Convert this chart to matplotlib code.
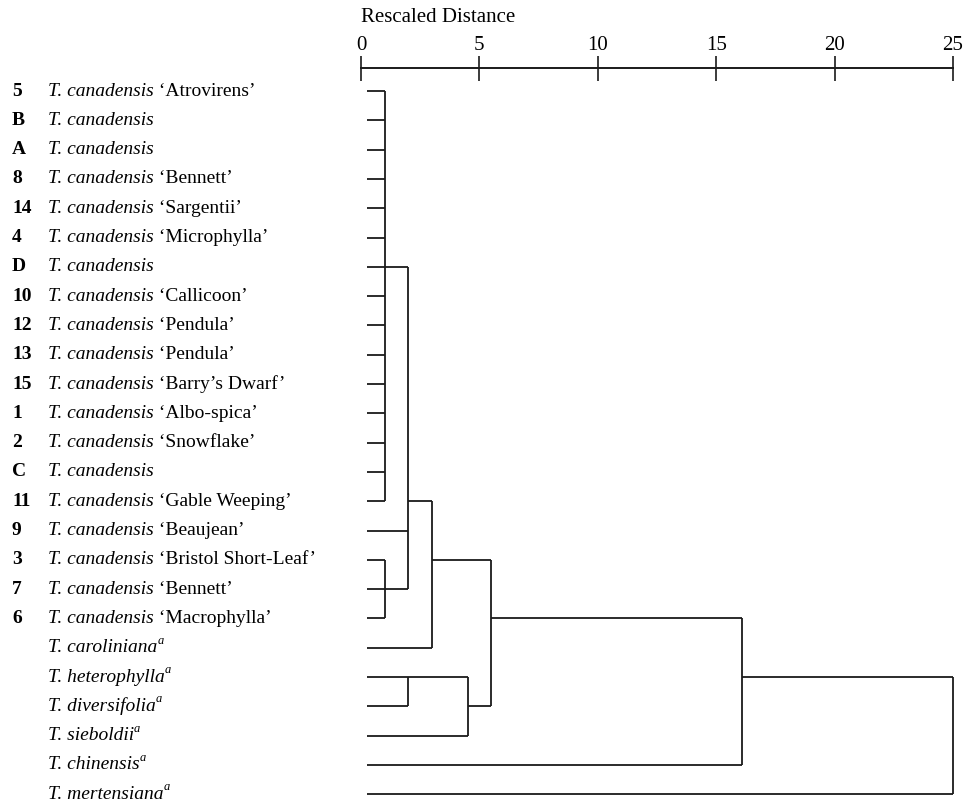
import matplotlib.pyplot as plt
from matplotlib.transforms import blended_transform_factory

plt.rcParams['font.family'] = ['Liberation Serif', 'DejaVu Serif']

codes = ["5", "B", "A", "8", "14", "4", "D", "10", "12", "13", "15", "1", "2", "C", "11",
         "9", "3", "7", "6", "", "", "", "", "", ""]
species = ["T. canadensis"] * 19 + ["T. caroliniana", "T. heterophylla", "T. diversifolia",
                                    "T. sieboldii", "T. chinensis", "T. mertensiana"]
cultivars = ["Atrovirens", "", "", "Bennett", "Sargentii", "Microphylla", "", "Callicoon",
             "Pendula", "Pendula", "Barry’s Dwarf", "Albo-spica", "Snowflake", "",
             "Gable Weeping", "Beaujean", "Bristol Short-Leaf", "Bennett", "Macrophylla",
             "", "", "", "", "", ""]
notes = [""] * 19 + ["a"] * 6

# agglomeration steps: (name, children, rescaled distance, row the joined branch leaves from)
# an int child is a leaf row, a string child is an earlier step
merges = [
    ("m1", list(range(15)), 1.0, 6),
    ("m2", [16, 17, 18], 1.0, 17),
    ("m3", ["m1", 15, "m2"], 2.0, 14),
    ("m4", ["m3", 19], 3.0, 16),
    ("m5", [20, 21], 2.0, 20),
    ("m6", ["m5", 22], 4.5, 21),
    ("m7", ["m4", "m6"], 5.5, 18),
    ("m8", ["m7", 23], 16.1, 20),
    ("m9", ["m8", 24], 25.0, None),
]
leaf_start = 0.25
ticks = [0, 5, 10, 15, 20, 25]

W, H = 972, 808
fig = plt.figure(figsize=(W / 100, H / 100), dpi=100)
ax = fig.add_axes([361 / W, 0, 592 / W, (H - 68) / H])
ax.set_xlim(0, 25)
ax.set_ylim(24.47, -0.785)

lw = 1.3
col = '#1a1a1a'
pos = {}
for name, kids, d, out in merges:
    ys = []
    for k in kids:
        if isinstance(k, str):
            x0, y = pos[k]
        else:
            x0, y = leaf_start, k
        ax.plot([x0, d], [y, y], color=col, lw=lw, clip_on=False, solid_capstyle='butt')
        ys.append(y)
    ax.plot([d, d], [min(ys), max(ys)], color=col, lw=lw, clip_on=False, solid_capstyle='butt')
    pos[name] = (d, out)

# distance scale on top
for s in ['left', 'right', 'bottom']:
    ax.spines[s].set_visible(False)
ax.spines['top'].set_linewidth(1.4)
ax.spines['top'].set_color(col)
ax.xaxis.tick_top()
ax.set_xticks(ticks)
ax.set_xticklabels([str(t) for t in ticks])
ax.tick_params(axis='x', direction='inout', length=18, width=1.2, pad=0, labelsize=15,
               color=col)
ax.set_yticks([])
fig.text(361 / W, 1 - 22 / H, "Rescaled Distance", fontsize=15, va='baseline', ha='left')

# row labels
tr = blended_transform_factory(fig.transFigure, ax.transData)
for i in range(len(species)):
    if codes[i]:
        ax.text(12 / W, i, codes[i], transform=tr, fontsize=14, fontweight='bold',
                va='center', ha='left')
    t = ax.text(48 / W, i, species[i], transform=tr, fontsize=14, style='italic',
                va='center', ha='left')
    if cultivars[i]:
        ax.annotate(" ‘" + cultivars[i] + "’", xy=(1, 0), xycoords=t, fontsize=14,
                    va='bottom', ha='left')
    if notes[i]:
        ax.annotate(notes[i], xy=(1, 0.55), xycoords=t, fontsize=9, style='italic',
                    va='bottom', ha='left')

fig.savefig("out.png", dpi=100)
